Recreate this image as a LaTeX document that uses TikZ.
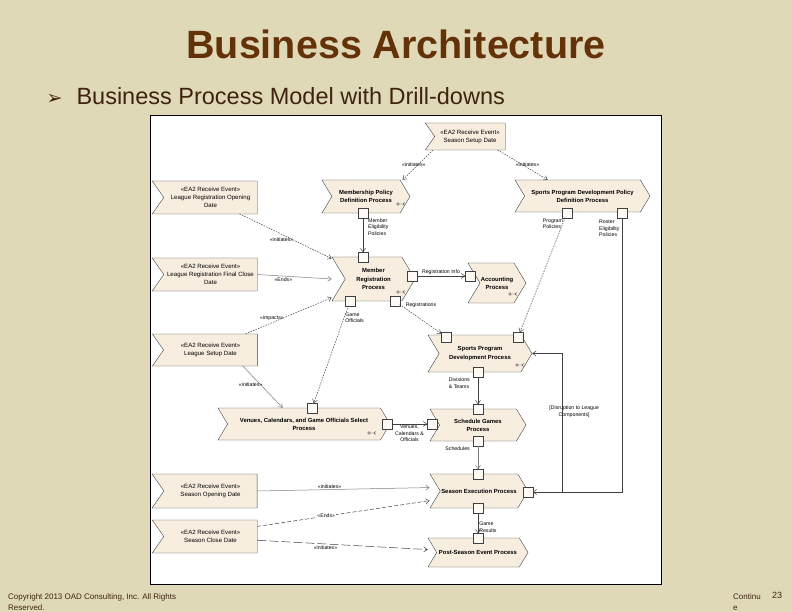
\documentclass[tikz,border=0pt]{standalone}
\usepackage{fontspec}
\setmainfont{Liberation Sans}
\newfontfamily\dingfont{DejaVu Sans}
\usetikzlibrary{shapes.symbols,arrows.meta,calc}

\definecolor{paper}{RGB}{224,217,184}
\definecolor{titlebrown}{RGB}{100,50,8}
\definecolor{textbrown}{RGB}{62,36,14}
\definecolor{boxfill}{RGB}{248,238,224}
\definecolor{edgegray}{RGB}{64,64,64}
\definecolor{linegray}{RGB}{125,125,125}

\tikzset{
  evtbox/.style={shape=signal, signal from=west, signal to=nowhere,
    signal pointer angle=110, draw=edgegray, fill=boxfill, align=center,
    inner sep=0pt, font=\fontsize{6.1}{8}\selectfont},
  procbox/.style={shape=signal, signal from=west, signal to=east,
    signal pointer angle=118, draw=edgegray, fill=boxfill, align=center,
    inner sep=0pt, font=\fontsize{5.9}{8.2}\selectfont\bfseries},
  portbox/.style={draw=edgegray, fill=white!70!boxfill, minimum size=9.5pt,
    inner sep=0pt, outer sep=0pt},
  flow/.style={draw=edgegray, line width=.5pt,
    -{Straight Barb[length=3.5pt,width=5pt]}},
  softflow/.style={flow, draw=linegray},
  dotflow/.style={flow, dash pattern=on 1.5pt off 1.2pt},
  dashflow/.style={flow, dash pattern=on 4pt off 2pt},
  longflow/.style={flow, dash pattern=on 9pt off 3pt},
  lbl/.style={font=\fontsize{5.2}{6.4}\selectfont, inner sep=1pt, align=left},
  onlbl/.style={lbl, fill=white, inner sep=.6pt},
}
\newcommand\drilldown[1]{%
  \draw[edgegray, line width=.4pt] (#1) circle[radius=1.3pt]
    ++(1.3,0) -- ++(3.5,0) -- ++(2,-1.4) ++(-2,1.4) -- ++(2,1.4);}

\begin{document}
\begin{tikzpicture}[x=1pt, y=-1pt]
  \useasboundingbox (0,0) rectangle (792,612);
  % slide
  \fill[paper] (0,0) rectangle (792,612);
  \node[font=\fontsize{39.5}{40}\selectfont\bfseries, text=titlebrown, anchor=base]
    (title) at (396,59) {Business Architecture};
  \node[font=\dingfont\fontsize{19}{20}\selectfont, text=textbrown, anchor=base west]
    (bullet) at (43,105) {➢};
  \node[font=\fontsize{23.5}{26}\selectfont, text=textbrown, anchor=base west]
    (subtitle) at (73,105) {Business Process Model with Drill-downs};
  % footer
  \node[font=\fontsize{8}{11}\selectfont, text=textbrown, anchor=north west, align=left, inner sep=0pt]
    (copyright) at (8,593) {Copyright 2013 OAD Consulting, Inc. All Rights\\Reserved.};
  \node[font=\fontsize{8}{11}\selectfont, text=textbrown, anchor=north west, align=left, inner sep=0pt]
    (cont) at (733,593) {Continu\\e};
  \node[font=\fontsize{9}{11}\selectfont, text=textbrown, anchor=north west, inner sep=0pt]
    (pagenum) at (772,592) {23};

  % diagram panel
  \draw[black, fill=white, line width=.8pt] (150,115) rectangle (661,584);

  % events
  \node[evtbox, minimum width=80pt, minimum height=27pt] (seasonSetup) at (470,136.5)
    {«EA2 Receive Event»\\Season Setup Date};
  \node[evtbox, minimum width=105pt, minimum height=33pt] (regOpen) at (210.5,197.5)
    {«EA2 Receive Event»\\League Registration Opening\\Date};
  \node[evtbox, minimum width=105pt, minimum height=33pt] (regClose) at (210.5,274.5)
    {«EA2 Receive Event»\\League Registration Final Close\\Date};
  \node[evtbox, minimum width=105pt, minimum height=32pt] (leagueSetup) at (210.5,350)
    {«EA2 Receive Event»\\League Setup Date};
  \node[evtbox, minimum width=105pt, minimum height=34pt] (seasonOpen) at (210.5,491)
    {«EA2 Receive Event»\\Season Opening Date};
  \node[evtbox, minimum width=105pt, minimum height=33pt] (seasonClose) at (210.5,536.5)
    {«EA2 Receive Event»\\Season Close Date};

  % processes
  \node[procbox, minimum width=88pt, minimum height=33pt] (memPolicy) at (366,196.5)
    {Membership Policy\\Definition Process};
  \node[procbox, minimum width=135pt, minimum height=32pt] (sportsPolicy) at (582.5,196)
    {Sports Program Development Policy\\Definition Process};
  \node[procbox, minimum width=83pt, minimum height=44pt] (memReg) at (373.5,279)
    {Member\\Registration\\Process};
  \node[procbox, minimum width=58pt, minimum height=40pt] (accounting) at (497,283)
    {Accounting\\Process};
  \node[procbox, minimum width=104pt, minimum height=37pt] (sportsProg) at (480,353.5)
    {Sports Program\\Development Process};
  \node[procbox, minimum width=172pt, minimum height=32pt] (venueSelect) at (304,424)
    {Venues, Calendars, and Game Officials Select\\Process};
  \node[procbox, minimum width=96pt, minimum height=32pt] (schedGames) at (478,425)
    {Schedule Games\\Process};
  \node[procbox, minimum width=98pt, minimum height=34pt] (seasonExec) at (479,491)
    {Season Execution Process};
  \node[procbox, minimum width=100pt, minimum height=29pt] (postSeason) at (478,552.5)
    {Post-Season Event Process};

  % drill-down marks
  \drilldown{398,204}
  \drilldown{398,292}
  \drilldown{510,294}
  \drilldown{517,365}
  \drilldown{369,433}

  % ports
  \node[portbox] (memPolicyOut) at (363,213) {};
  \node[portbox] (sportsProgOut) at (567,213) {};
  \node[portbox] (sportsRosterOut) at (622,213) {};
  \node[portbox] (memRegIn) at (363,257) {};
  \node[portbox] (memRegInfo) at (412,276) {};
  \node[portbox] (memRegOfficials) at (350,301) {};
  \node[portbox] (memRegList) at (395,301) {};
  \node[portbox] (accountingIn) at (470,276) {};
  \node[portbox] (sportsRegIn) at (446,337) {};
  \node[portbox] (sportsPolIn) at (518,337) {};
  \node[portbox] (sportsOut) at (478,372) {};
  \node[portbox] (venueIn) at (312,408) {};
  \node[portbox] (venueOut) at (387,424) {};
  \node[portbox] (schedIn) at (432,424) {};
  \node[portbox] (schedTop) at (478,409) {};
  \node[portbox] (schedOut) at (478,441) {};
  \node[portbox] (seasonIn) at (478,474) {};
  \node[portbox] (seasonRoster) at (528,492) {};
  \node[portbox] (seasonOut) at (478,508) {};
  \node[portbox] (postIn) at (478,538) {};

  % event triggers
  \draw[dotflow] ([xshift=8pt]seasonSetup.south west)
    -- node[lbl, pos=.5, left, xshift=9pt] (lblA) {«initiates»}
    ([xshift=81pt]memPolicy.north west);
  \draw[dotflow] ([xshift=-8pt]seasonSetup.south east)
    -- node[lbl, pos=.5, right, xshift=-8pt] (lblB) {«initiates»}
    ([xshift=33pt]sportsPolicy.north west);
  \draw[dotflow] ([xshift=-18pt]regOpen.south east)
    -- node[lbl, pos=.5, below, xshift=-4pt] (lblC) {«initiates»}
    ($(memReg.north west)!.04!(memReg.south west)$);
  \draw[softflow] (regClose.east)
    -- node[lbl, pos=.35, below] (lblD) {«Ends»}
    ($(memReg.north west)!.5!(memReg.south west)$);
  \draw[dotflow] ([xshift=-12pt]leagueSetup.north east)
    -- node[lbl, pos=.4, above left, xshift=5pt, yshift=-2pt] (lblE) {«impacts»}
    ($(memReg.north west)!.92!(memReg.south west)$);
  \draw[softflow] ([xshift=-15pt]leagueSetup.south east)
    -- node[lbl, pos=.45, left, xshift=3pt] (lblF) {«initiates»}
    ([xshift=65pt]venueSelect.north west);
  \draw[softflow] (seasonOpen.east)
    -- node[lbl, pos=.42, above] (lblG) {«initiates»}
    ($(seasonExec.north west)!.4!(seasonExec.south west)$);
  \draw[dashflow] ($(seasonClose.north east)!.2!(seasonClose.south east)$)
    -- node[onlbl, pos=.4] (lblH) {«Ends»}
    ($(seasonExec.north west)!.78!(seasonExec.south west)$);
  \draw[longflow] ($(seasonClose.north east)!.62!(seasonClose.south east)$)
    -- node[lbl, pos=.4, below] (lblI) {«initiates»}
    ($(postSeason.north west)!.4!(postSeason.south west)$);

  % object flows
  \draw[flow] (memPolicyOut) -- (memRegIn);
  \node[lbl, anchor=west] (lblElig) at (367,227) {Member\\Eligibility\\Policies};
  \draw[flow] (memRegInfo) -- node[lbl, above] (lblInfo) {Registration Info} (accountingIn);
  \draw[dotflow] (memRegList)
    -- node[lbl, pos=.02, anchor=west, xshift=4pt] (lblRegs) {Registrations} (sportsRegIn);
  \draw[dotflow] (memRegOfficials)
    -- node[lbl, pos=.12, right] (lblOff) {Game\\Officials} (venueIn);
  \draw[dotflow] (sportsProgOut)
    -- node[lbl, pos=0, anchor=north east, xshift=-1pt] (lblProg) {Program\\Policies} (sportsPolIn);
  \draw[flow] (sportsRosterOut) |- (seasonRoster);
  \node[lbl, anchor=north west] (lblRoster) at (598,219) {Roster\\Eligibility\\Policies};
  \draw[flow] (venueOut)
    -- node[lbl, below, align=center] (lblVenue) {Venues,\\Calendars \&\\Officials} (schedIn);
  \draw[flow] (sportsOut)
    -- node[lbl, pos=0, anchor=north east, xshift=-7pt] (lblDiv) {Divisions\\\& Teams} (schedTop);
  \draw[softflow] (schedOut)
    -- node[lbl, pos=0, anchor=north east, xshift=-7pt] (lblSched) {Schedules} (seasonIn);
  \draw[flow] (seasonOut)
    -- node[lbl, pos=.7, right] (lblRes) {Game\\Results} (postIn);
  \draw[flow] (seasonRoster.east) -| ([xshift=30pt]sportsProg.east)
    -- node[lbl, pos=0, right, xshift=-14pt, yshift=-58pt, align=center] (lblDisrupt)
       {[Disruption to League\\Components]}
    (sportsProg.east);

\end{tikzpicture}
\end{document}
